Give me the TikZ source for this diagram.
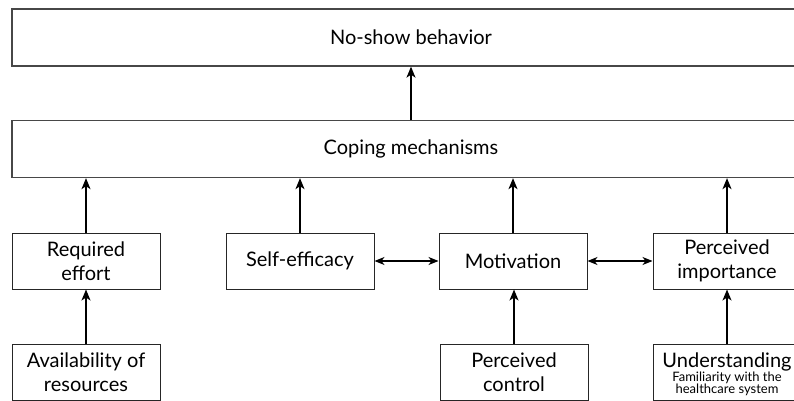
\documentclass[tikz,border=0pt]{standalone}
\usepackage{fontspec}
\setmainfont{Lato}
\usetikzlibrary{arrows.meta}
\begin{document}
\begin{tikzpicture}[x=1pt,y=-1pt,
  bigbox/.style={draw=black!72,line width=1.3pt,minimum width=798pt,minimum height=57pt,inner sep=0pt,font=\fontsize{20}{24}\selectfont},
  smallbox/.style={draw=black!85,line width=1pt,minimum width=148pt,minimum height=56pt,inner sep=0pt,align=center,font=\fontsize{20}{24}\selectfont},
  conn/.style={line width=1.5pt,-{Stealth[length=11pt,width=9pt,inset=3pt]}},
  biconn/.style={line width=1.2pt,{Stealth[length=10pt,width=8pt,inset=3pt]}-{Stealth[length=10pt,width=8pt,inset=3pt]}}]
\useasboundingbox (0,0) rectangle (794,401);
\clip (0,0) rectangle (794,401);
\fill[white] (0,0) rectangle (794,401);
\node[bigbox] (ns) at (411,37.5) {No-show behavior};
\node[bigbox] (cm) at (411,149) {Coping mechanisms};
\node[smallbox] (re) at (86,261) {Required\\effort};
\node[smallbox] (se) at (300,261) {Self-efficacy};
\node[smallbox] (mo) at (513,261) {Motivation};
\node[smallbox] (pi) at (727,261) {Perceived\\importance};
\node[smallbox] (av) at (86,372) {Availability of\\resources};
\node[smallbox] (pc) at (514,372) {Perceived\\control};
\node[smallbox] (un) at (727,372) {};
\node[anchor=north,align=center,inner sep=0pt,font=\fontsize{13}{12}\selectfont] (ut) at (727,353) {{\fontsize{20}{24}\selectfont Understanding}\\[-1pt]Familiarity with the\\healthcare system};
\draw[conn] (cm.north -| ns.south) -- (ns.south);
\draw[conn] (re.north) -- (re.north |- cm.south);
\draw[conn] (se.north) -- (se.north |- cm.south);
\draw[conn] (mo.north) -- (mo.north |- cm.south);
\draw[conn] (pi.north) -- (pi.north |- cm.south);
\draw[conn] (av.north) -- (re.south);
\draw[conn] (pc.north) -- (pc.north |- mo.south);
\draw[conn] (un.north) -- (pi.south);
\draw[biconn] (se.east) -- (mo.west);
\draw[biconn] (mo.east) -- (pi.west);
\end{tikzpicture}
\end{document}
